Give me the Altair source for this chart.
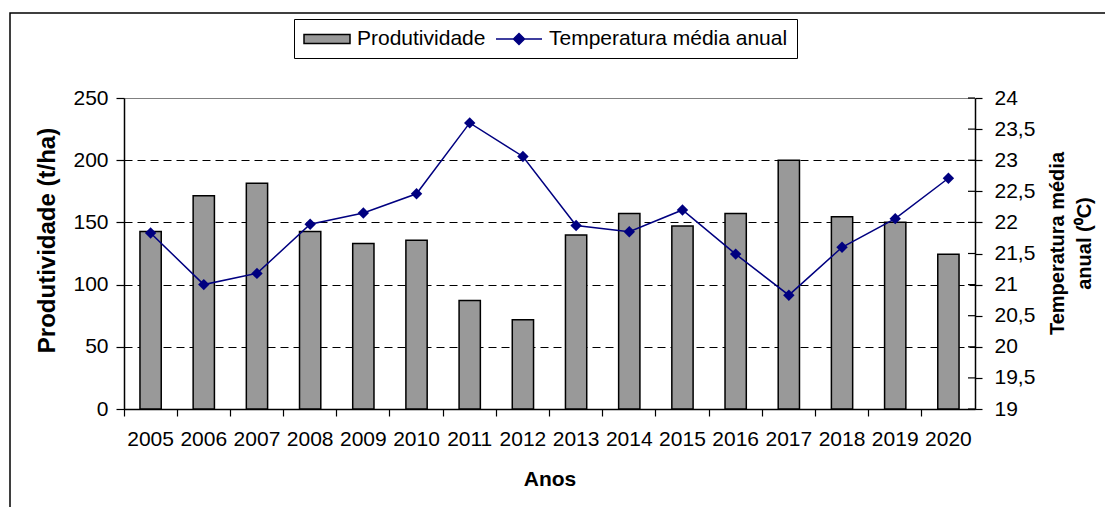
import altair as alt
import pandas as pd

# ---------------- data ----------------
anos = ["2005", "2006", "2007", "2008", "2009", "2010", "2011", "2012",
        "2013", "2014", "2015", "2016", "2017", "2018", "2019", "2020"]
produtividade = [142.7, 171.5, 181.5, 142.7, 133.0, 135.7, 87.3, 71.7,
                 139.9, 157.2, 147.2, 157.2, 200.0, 154.5, 150.2, 124.4]
temperatura = [21.83, 21.0, 21.18, 21.97, 22.15, 22.46, 23.6, 23.06,
               21.95, 21.85, 22.2, 21.49, 20.83, 21.6, 22.06, 22.71]
left_ticks = [0, 50, 100, 150, 200, 250]
right_ticks = [19, 19.5, 20, 20.5, 21, 21.5, 22, 22.5, 23, 23.5, 24]
series = ["Produtividade", "Temperatura média anual"]

df = pd.DataFrame({"ano": anos, "prod": produtividade, "temp": temperatura,
                   "serie": series[0]})
df_ticks = pd.DataFrame({"v": right_ticks})

FONT = "Liberation Sans"
NAVY = "#000080"
GRAY = "#999999"

x_enc = alt.X(
    "ano:N", title="Anos",
    scale=alt.Scale(paddingInner=0, paddingOuter=0),
    axis=alt.Axis(bandPosition=0, labelAngle=0, tickSize=7, tickColor="black",
                  domainColor="black", domainWidth=1.5, tickWidth=1.2,
                  labelFont=FONT, labelFontSize=21, labelColor="black", labelPadding=12,
                  titleFont=FONT, titleFontSize=21, titleFontWeight="bold",
                  titleColor="black", titlePadding=19, grid=False),
)

legend = alt.Legend(
    title=None, orient="none", legendX=170, legendY=-79, direction="horizontal",
    labelFont=FONT, labelFontSize=21, labelColor="black", labelLimit=600,
    symbolSize=400, symbolOffset=13, symbolStrokeWidth=1.5, strokeColor="black",
    fillColor="white", padding=9, columnPadding=7, labelOffset=19, symbolOpacity=1,
    symbolType=alt.ExprRef(expr="datum.value == 'Produtividade' ? 'M-2.3,-0.45L2.3,-0.45L2.3,0.45L-2.3,0.45Z' : 'M-2.3,0L2.3,0M0,-0.55L0.55,0L0,0.55L-0.55,0Z'"),
    symbolStrokeColor=alt.ExprRef(expr="datum.value == 'Produtividade' ? 'black' : '#000080'"),
)

bars = alt.Chart(df).mark_bar(
    width=alt.RelativeBandSize(0.4), stroke="black", strokeWidth=1.5, opacity=1
).encode(
    x=x_enc,
    y=alt.Y("prod:Q", title="Produtividade (t/ha)",
            scale=alt.Scale(domain=[0, 250]),
            axis=alt.Axis(values=left_ticks, orient="left", tickSize=8, tickColor="black",
                          domainColor="black", domainWidth=1.5, tickWidth=1.2,
                          labelFont=FONT, labelFontSize=21, labelColor="black", labelPadding=8,
                          titleFont=FONT, titleFontSize=24, titleFontWeight="bold",
                          titleColor="black", titlePadding=13, titleY=142,
                          grid=True, gridColor="black", gridDash=[8, 5], gridWidth=1,
                          gridOpacity={"condition": {"test": "datum.value >= 250", "value": 0}, "value": 1})),
    color=alt.Color("serie:N", scale=alt.Scale(domain=series, range=[GRAY, NAVY]), legend=legend),
)

line = alt.Chart(df).mark_line(
    color=NAVY, strokeWidth=1.5,
    point=alt.OverlayMarkDef(shape="diamond", size=130, filled=True, color=NAVY, opacity=1),
).encode(
    x=alt.X("ano:N"),
    y=alt.Y("temp:Q", title=["Temperatura média", "anual (⁰C)"],
            scale=alt.Scale(domain=[19, 24], zero=False),
            axis=alt.Axis(values=right_ticks, orient="right", tickSize=7, tickColor="black",
                          domainColor="black", domainWidth=1.5, tickWidth=1.2,
                          labelFont=FONT, labelFontSize=21, labelColor="black", labelPadding=12,
                          format=".1~f",
                          labelExpr="replace(datum.label, '.', ',')",
                          titleFont=FONT, titleFontSize=20, titleFontWeight="bold",
                          titleColor="black", titlePadding=6, titleAngle=270,
                          titleLineHeight=27, titleY=145,
                          grid=False)),
)

# inner half of the right-axis tick marks (Excel draws them crossing the axis)
inner_ticks = alt.Chart(df_ticks).mark_rule(color="black", strokeWidth=1.2).encode(
    y=alt.Y("v:Q", scale=alt.Scale(domain=[19, 24], zero=False), axis=None),
    x=alt.value(844), x2=alt.value(851),
)

frame = alt.Chart(pd.DataFrame({"a": [0]})).mark_rect(
    fillOpacity=0, stroke="black", strokeWidth=1.5
).encode(x=alt.value(-114), x2=alt.value(1100), y=alt.value(-85), y2=alt.value(520))

chart = alt.layer(frame, bars, line, inner_ticks).resolve_scale(y="independent").properties(
    width=851, height=311,
    autosize=alt.AutoSizeParams(type="none"),
    padding={"left": 116, "top": 90, "right": 130, "bottom": 98},
).configure_view(stroke="#808080", strokeWidth=1)

chart.save("out.html", embed_options={"renderer": "svg", "actions": False})
